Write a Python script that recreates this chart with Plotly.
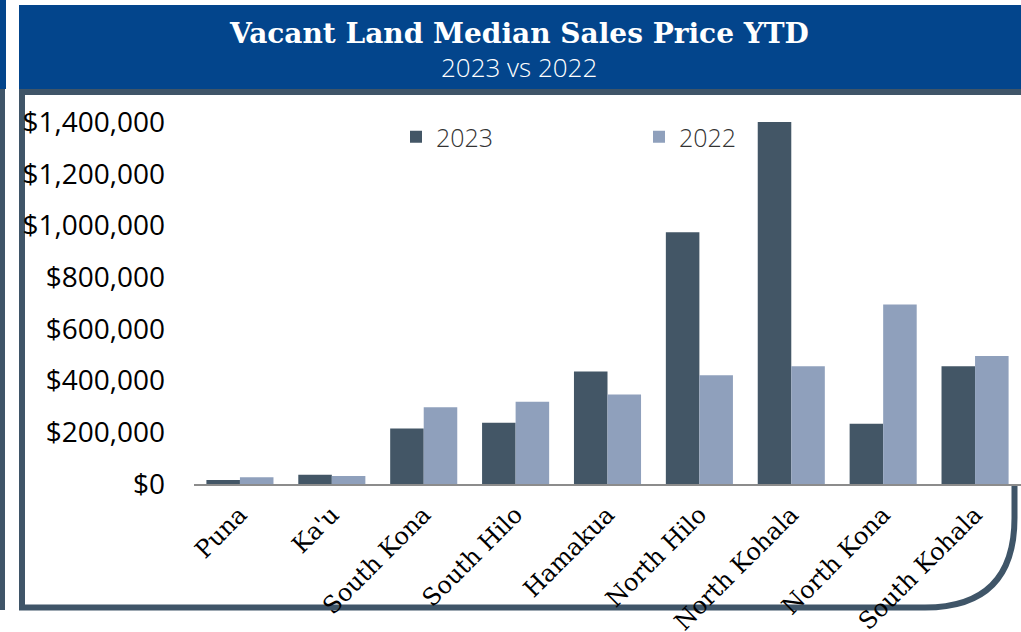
import plotly.graph_objects as go

categories = ["Puna", "Ka'u", "South Kona", "South Hilo", "Hamakua",
              "North Hilo", "North Kohala", "North Kona", "South Kohala"]
values_2023 = [15000, 36000, 215000, 237000, 435000, 974000, 1401000, 233000, 455000]
values_2022 = [26000, 31000, 297000, 318000, 346000, 421000, 455000, 694000, 495000]
series_names = ["2023", "2022"]
y_ticks = [0, 200000, 400000, 600000, 800000, 1000000, 1200000, 1400000]
y_tick_labels = ["$" + format(v, ",") for v in y_ticks]

W, H = 1021, 632
L, R, T, B = 194, 0, 122, 148
PW = W - L - R
PH = H - T - B


def X(px):
    return (px - L) / PW


def Y(py):
    return (H - B - py) / PH


C23 = "#435666"
C22 = "#8FA0BC"
SLATE = "#3F5568"
BLUE = "#03458C"

fig = go.Figure()
fig.add_trace(go.Bar(x=categories, y=values_2023, name=series_names[0],
                     marker=dict(color=C23, line=dict(width=0))))
fig.add_trace(go.Bar(x=categories, y=values_2022, name=series_names[1],
                     marker=dict(color=C22, line=dict(width=0))))

shapes = []
# header band
shapes.append(dict(type="rect", xref="paper", yref="paper",
                   x0=X(19), x1=X(1021), y0=Y(5), y1=Y(89),
                   fillcolor=BLUE, line=dict(width=0), layer="below"))
# left strip (neighbouring panel)
shapes.append(dict(type="rect", xref="paper", yref="paper",
                   x0=X(0), x1=X(6), y0=Y(0), y1=Y(89),
                   fillcolor=BLUE, line=dict(width=0), layer="below"))
shapes.append(dict(type="rect", xref="paper", yref="paper",
                   x0=X(0), x1=X(5), y0=Y(89), y1=Y(610),
                   fillcolor=SLATE, line=dict(width=0), layer="below"))
# top border
shapes.append(dict(type="rect", xref="paper", yref="paper",
                   x0=X(19), x1=X(1021), y0=Y(89), y1=Y(95),
                   fillcolor=SLATE, line=dict(width=0), layer="below"))
# left / bottom / rounded right border
path = (f"M {X(22)},{Y(92)} L {X(22)},{Y(607.5)} L {X(925)},{Y(607.5)} "
        f"Q {X(1014.5)},{Y(607.5)} {X(1014.5)},{Y(518)} L {X(1014.5)},{Y(485)}")
shapes.append(dict(type="path", xref="paper", yref="paper", path=path,
                   line=dict(color=SLATE, width=6), layer="below"))

annotations = [
    dict(text="Vacant Land Median Sales Price YTD", xref="paper", yref="paper",
         x=X(519), y=Y(33), xanchor="center", yanchor="middle", showarrow=False,
         font=dict(family="DejaVu Serif", size=28, color="white", weight="bold")),
    dict(text="2023 vs 2022", xref="paper", yref="paper",
         x=X(519), y=Y(67), xanchor="center", yanchor="middle", showarrow=False,
         font=dict(family="Open Sans", size=26, color="white", weight=300)),
]

fig.update_layout(
    width=W, height=H,
    margin=dict(l=L, r=R, t=T, b=B, pad=0, autoexpand=False),
    paper_bgcolor="white", plot_bgcolor="white",
    barmode="group", bargap=0.27, bargroupgap=0,
    shapes=shapes, annotations=annotations,
    showlegend=True,
    legend=dict(orientation="h", x=X(396), y=Y(114), xanchor="left", yanchor="top",
                entrywidth=198, entrywidthmode="pixels",
                bgcolor="rgba(0,0,0,0)",
                font=dict(family="Open Sans", size=25, color="#333333", weight=300),
                itemsizing="constant"),
    xaxis=dict(showgrid=False, zeroline=False, showline=True, linecolor="#8C8C8C",
               linewidth=2, ticks="", tickangle=-45, ticklabelstandoff=5,
               automargin=False,
               tickfont=dict(family="DejaVu Serif", size=24, color="black")),
    yaxis=dict(range=[0, 1400000], tickvals=y_ticks, ticktext=y_tick_labels,
               showgrid=False, zeroline=False, showline=False, ticks="",
               ticklabelstandoff=28, automargin=False,
               tickfont=dict(family="Open Sans", size=28, color="black")),
)

fig.write_html("out.html", config={"displayModeBar": False},
               post_script="document.body.style.margin='0px';")
